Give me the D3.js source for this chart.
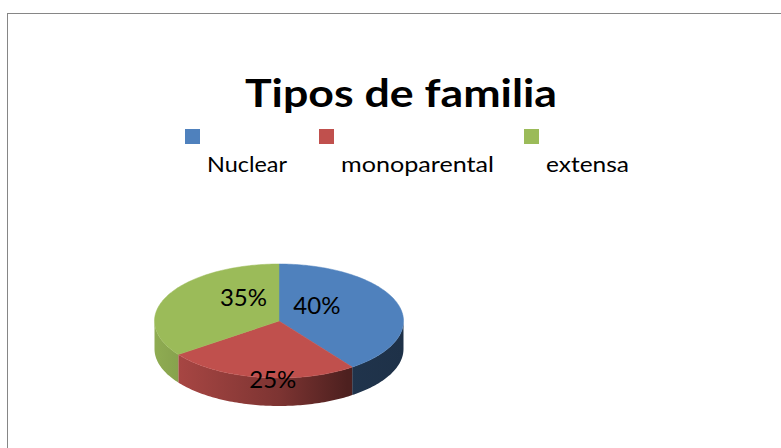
<!DOCTYPE html>
<html>
<head>
<meta charset="utf-8">
<script src="https://cdn.jsdelivr.net/npm/d3@7"></script>
<style>
  body { margin: 0; background: #fff; }
  svg { display: block; }
</style>
</head>
<body>
<div id="chart"></div>
<script>
// data
var title = "Tipos de familia";
var categories = ["Nuclear", "monoparental", "extensa"];
var values = [40, 25, 35];
var colors = ["#4f81bd", "#c0504d", "#9bbb59"];

var width = 781, height = 448;
var cx = 279, cy = 321, rx = 124.5, ry = 57, depth = 28;

var svg = d3.select("#chart").append("svg")
  .attr("width", width)
  .attr("height", height);

// outer frame (runs past the right and bottom edge)
svg.append("rect")
  .attr("x", 7.5).attr("y", 13.5)
  .attr("width", 820).attr("height", 500)
  .style("fill", "white")
  .style("stroke", "#868686")
  .style("stroke-width", 1);

svg.append("text")
  .attr("x", 401).attr("y", 107)
  .attr("text-anchor", "middle")
  .attr("textLength", 312)
  .attr("lengthAdjust", "spacingAndGlyphs")
  .style("font-family", "Lato, 'Open Sans', sans-serif")
  .style("font-weight", "bold")
  .style("font-size", "39px")
  .style("fill", "#000")
  .text(title);

// legend
var legendX = d3.scaleOrdinal().domain(categories).range([185, 319, 524]);
var legendW = d3.scaleOrdinal().domain(categories).range([80, 153, 83]);
var legend = svg.selectAll(".legend").data(categories).enter().append("g")
  .attr("class", "legend");
legend.append("rect")
  .attr("x", function(d){ return legendX(d); })
  .attr("y", 129)
  .attr("width", 15).attr("height", 15)
  .style("fill", function(d, i){ return colors[i]; });
legend.append("text")
  .attr("x", function(d){ return legendX(d) + 22; })
  .attr("y", 172)
  .attr("textLength", function(d){ return legendW(d); })
  .attr("lengthAdjust", "spacingAndGlyphs")
  .style("font-family", "Lato, 'Open Sans', sans-serif")
  .style("font-size", "22px")
  .style("fill", "#000")
  .text(function(d){ return d; });

// 3d pie
var pie = d3.pie().sort(null).value(function(d){ return d; });
var arcs = pie(values);

var px = function(a){ return cx + rx * Math.sin(a); };
var py = function(a){ return cy - ry * Math.cos(a); };

var ellipsePts = function(a0, a1, dy){
  var n = Math.max(2, Math.ceil((a1 - a0) / 0.02));
  return d3.range(n + 1).map(function(k){
    var a = a0 + (a1 - a0) * k / n;
    return [px(a), py(a) + dy];
  });
};

// side shading: lighter on the left, darker on the right
var shade = d3.scaleLinear()
  .domain([cx - rx, cx, cx + 0.55 * rx, cx + rx])
  .range([0.08, 0.35, 0.6, 0.62]);

var defs = svg.append("defs");
arcs.forEach(function(d, i){
  var g = defs.append("linearGradient")
    .attr("id", "side" + i)
    .attr("gradientUnits", "userSpaceOnUse")
    .attr("x1", cx - rx).attr("x2", cx + rx)
    .attr("y1", 0).attr("y2", 0);
  shade.domain().forEach(function(x){
    g.append("stop")
      .attr("offset", (x - (cx - rx)) / (2 * rx))
      .attr("stop-color", d3.interpolateRgb(colors[i], "#000")(shade(x)));
  });
});

var line = d3.line();

// front walls
arcs.forEach(function(d, i){
  var a0 = Math.max(d.startAngle, Math.PI / 2);
  var a1 = Math.min(d.endAngle, 3 * Math.PI / 2);
  if (a1 <= a0) return;
  var top = ellipsePts(a0, a1, 0);
  var bottom = ellipsePts(a0, a1, depth).reverse();
  svg.append("path")
    .attr("d", line(top.concat(bottom)) + "Z")
    .style("fill", "url(#side" + i + ")");
});

// top faces
arcs.forEach(function(d, i){
  var pts = [[cx, cy]].concat(ellipsePts(d.startAngle, d.endAngle, 0));
  svg.append("path")
    .attr("d", line(pts) + "Z")
    .style("fill", colors[i])
    .style("stroke", colors[i])
    .style("stroke-width", 0.5);
});

// value labels
svg.selectAll(".label").data(arcs).enter().append("text")
  .attr("class", "label")
  .attr("x", function(d){
    var a = (d.startAngle + d.endAngle) / 2;
    return cx + 0.32 * rx * Math.sin(a);
  })
  .attr("y", function(d){
    var a = (d.startAngle + d.endAngle) / 2;
    return cy - ry * Math.cos(a) + 2;
  })
  .attr("dy", "0.36em")
  .attr("text-anchor", "middle")
  .style("font-family", "Lato, 'Open Sans', sans-serif")
  .style("font-size", "24px")
  .style("fill", "#000")
  .text(function(d){ return d.data + "%"; });
</script>
</body>
</html>
